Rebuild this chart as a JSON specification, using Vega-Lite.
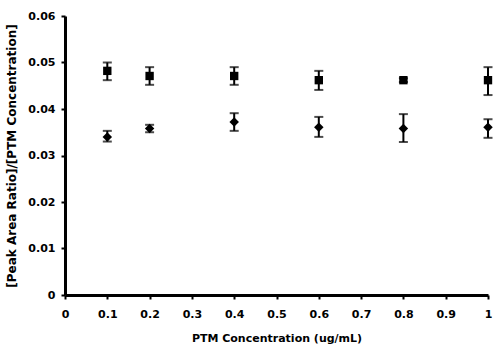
{
  "$schema": "https://vega.github.io/schema/vega-lite/v6.json",
  "autosize": "none",
  "width": 423,
  "height": 279,
  "padding": {"left": 65, "top": 16, "right": 12, "bottom": 59},
  "background": "white",
  "config": {
    "view": {"stroke": null},
    "axis": {
      "domainColor": "black", "domainWidth": 3, "tickColor": "black", "tickWidth": 2, "tickSize": 4,
      "labelFont": "DejaVu Sans", "labelFontWeight": "bold", "labelFontSize": 11, "labelColor": "black",
      "titleFont": "DejaVu Sans", "titleFontWeight": "bold", "titleFontSize": 11, "titleColor": "black",
      "grid": false
    }
  },
  "data": {"values": [
    {"conc": 0.1, "series": "A", "mean": 0.0482, "lo": 0.0462, "hi": 0.0500},
    {"conc": 0.2, "series": "A", "mean": 0.0471, "lo": 0.0452, "hi": 0.0490},
    {"conc": 0.4, "series": "A", "mean": 0.0471, "lo": 0.0452, "hi": 0.0490},
    {"conc": 0.6, "series": "A", "mean": 0.0462, "lo": 0.0441, "hi": 0.0482},
    {"conc": 0.8, "series": "A", "mean": 0.0462, "lo": 0.0458, "hi": 0.0466},
    {"conc": 1.0, "series": "A", "mean": 0.0462, "lo": 0.0430, "hi": 0.0490},
    {"conc": 0.1, "series": "B", "mean": 0.0340, "lo": 0.0330, "hi": 0.0353},
    {"conc": 0.2, "series": "B", "mean": 0.0358, "lo": 0.0350, "hi": 0.0366},
    {"conc": 0.4, "series": "B", "mean": 0.0372, "lo": 0.0353, "hi": 0.0391},
    {"conc": 0.6, "series": "B", "mean": 0.0361, "lo": 0.0340, "hi": 0.0383},
    {"conc": 0.8, "series": "B", "mean": 0.0358, "lo": 0.0329, "hi": 0.0389},
    {"conc": 1.0, "series": "B", "mean": 0.0361, "lo": 0.0338, "hi": 0.0378}
  ]},
  "encoding": {
    "x": {"field": "conc", "type": "quantitative",
      "scale": {"domain": [0, 1], "nice": false},
      "axis": {"values": [0, 0.1, 0.2, 0.3, 0.4, 0.5, 0.6, 0.7, 0.8, 0.9, 1], "labelExpr": "datum.value == 0 ? '0' : datum.value == 1 ? '1' : format(datum.value, '.1f')", "title": "PTM Concentration (ug/mL)", "titlePadding": 13, "labelPadding": 9, "labelFlush": false}}
  },
  "layer": [
    {"mark": {"type": "rule", "color": "black", "strokeWidth": 2},
     "encoding": {
       "y": {"field": "lo", "type": "quantitative",
         "scale": {"domain": [0, 0.06], "nice": false},
         "axis": {"values": [0, 0.01, 0.02, 0.03, 0.04, 0.05, 0.06], "labelExpr": "datum.value == 0 ? '0' : format(datum.value, '.2f')", "title": "[Peak Area Ratio]/[PTM Concentration]", "titleFontSize": 12, "titlePadding": 9, "labelPadding": 6}},
       "y2": {"field": "hi"}}},
    {"mark": {"type": "tick", "color": "black", "thickness": 2, "size": 9, "orient": "horizontal"},
     "encoding": {"y": {"field": "lo", "type": "quantitative"}}},
    {"mark": {"type": "tick", "color": "black", "thickness": 2, "size": 9, "orient": "horizontal"},
     "encoding": {"y": {"field": "hi", "type": "quantitative"}}},
    {"mark": {"type": "point", "filled": true, "color": "black", "opacity": 1},
     "encoding": {
       "y": {"field": "mean", "type": "quantitative"},
       "shape": {"field": "series", "type": "nominal", "scale": {"domain": ["A", "B"], "range": ["square", "diamond"]}, "legend": null},
       "size": {"field": "series", "type": "nominal", "scale": {"domain": ["A", "B"], "range": [70, 90]}, "legend": null}}}
  ]
}
